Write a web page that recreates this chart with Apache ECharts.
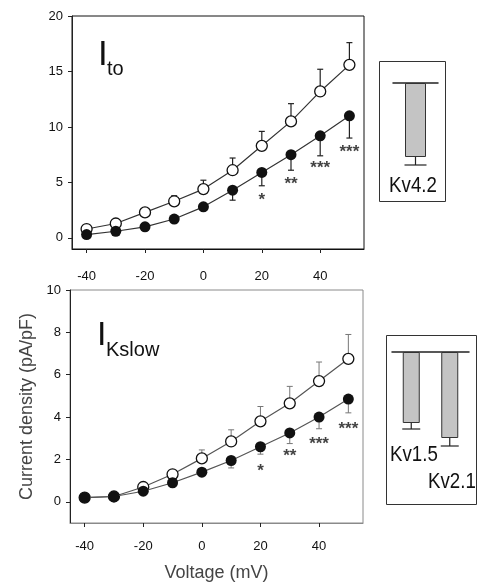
<!DOCTYPE html>
<html>
<head>
<meta charset="utf-8">
<script src="https://cdn.jsdelivr.net/npm/echarts@6/dist/echarts.min.js"></script>
<style>
  html, body { margin: 0; padding: 0; background: #fff; }
  #chart { width: 478px; height: 584px; }
</style>
</head>
<body>
<div id="chart"></div>
<script>
// voltage steps (mV)
const voltages = [-40, -30, -20, -10, 0, 10, 20, 30, 40, 50]
const xTicks = [-40, -20, 0, 20, 40]

// Ito panel
const itoTicks = [0, 5, 10, 15, 20]
const itoOpen = [0.8, 1.3, 2.3, 3.3, 4.4, 6.1, 8.3, 10.5, 13.2, 15.6]
const itoOpenErr = [0.9, 1.5, 2.6, 3.8, 5.2, 7.2, 9.6, 12.1, 15.2, 17.6]
const itoFilled = [0.3, 0.6, 1.0, 1.7, 2.8, 4.3, 5.9, 7.5, 9.2, 11.0]
const itoFilledErr = [0.2, 0.5, 0.8, 1.5, 2.6, 3.4, 4.7, 6.1, 7.4, 9.0]
const itoStarX = [20, 30, 40, 50]
const itoStarY = [3.7, 5.1, 6.5, 8.0]
const starText = ['*', '**', '***', '***']

// IKslow panel
const ksTicks = [0, 2, 4, 6, 8, 10]
const ksOpen = [0.2, 0.25, 0.7, 1.3, 2.05, 2.85, 3.8, 4.65, 5.7, 6.75]
const ksOpenErr = [0.25, 0.3, 0.75, 1.4, 2.45, 3.4, 4.5, 5.45, 6.6, 7.9]
const ksFilled = [0.2, 0.25, 0.5, 0.9, 1.4, 1.95, 2.6, 3.25, 4.0, 4.85]
const ksFilledErr = [0.15, 0.2, 0.4, 0.8, 1.25, 1.6, 2.25, 2.75, 3.45, 4.2]
const ksStarY = [1.6, 2.3, 2.85, 3.55]

// inset bars (relative)
const insetTopCats = ['Kv4.2']
const insetTopVals = [0.74]
const insetTopErr = [0.82]
const insetBotCats = ['Kv1.5', 'Kv2.1']
const insetBotVals = [0.71, 0.86]
const insetBotErr = [0.77, 0.94]

const FONT = "'Liberation Sans', Arial, sans-serif"

function pairs (xs, ys) {
  return xs.map((x, i) => [x, ys[i]])
}

function errData (xs, base, end) {
  return xs.map((x, i) => [x, base[i], end[i]])
}

function errRender (capHalf, color, width) {
  return function (params, api) {
    const x = api.value(0)
    const p0 = api.coord([x, api.value(1)])
    const p1 = api.coord([x, api.value(2)])
    const style = { stroke: color, lineWidth: width }
    return {
      type: 'group',
      children: [
        { type: 'line', shape: { x1: p0[0], y1: p0[1], x2: p1[0], y2: p1[1] }, style: style },
        { type: 'line', shape: { x1: p1[0] - capHalf, y1: p1[1], x2: p1[0] + capHalf, y2: p1[1] }, style: style }
      ]
    }
  }
}

function mainXAxis (gridIndex, lineColor, margin) {
  return {
    type: 'value',
    gridIndex: gridIndex,
    min: -45,
    max: 55,
    axisLine: { show: true, onZero: false, lineStyle: { color: lineColor, width: 1 } },
    axisTick: { show: true, length: 4, customValues: xTicks, lineStyle: { color: '#222' } },
    axisLabel: { customValues: xTicks, color: '#111', fontSize: 13, fontFamily: FONT, margin: margin },
    splitLine: { show: false }
  }
}

function mainYAxis (gridIndex, max, ticks) {
  return {
    type: 'value',
    gridIndex: gridIndex,
    min: -1,
    max: max,
    axisLine: { show: true, onZero: false, lineStyle: { color: '#222', width: 1 } },
    axisTick: { show: true, length: 4, customValues: ticks, lineStyle: { color: '#222' } },
    axisLabel: { customValues: ticks, color: '#111', fontSize: 13, fontFamily: FONT, margin: 9 },
    splitLine: { show: false }
  }
}

function curveSeries (idx, ys, filled, lineColor) {
  return {
    type: 'line',
    xAxisIndex: idx,
    yAxisIndex: idx,
    data: pairs(voltages, ys),
    symbol: 'circle',
    symbolSize: 11,
    z: filled ? 5 : 4,
    lineStyle: { color: lineColor, width: 1.2 },
    itemStyle: { color: filled ? '#111' : '#fff', borderColor: '#111', borderWidth: filled ? 0 : 1.3 }
  }
}

function starSeries (idx, ys) {
  return {
    type: 'scatter',
    xAxisIndex: idx,
    yAxisIndex: idx,
    symbolSize: 0,
    data: pairs(itoStarX, ys),
    label: {
      show: true,
      position: 'inside',
      offset: [0, 3],
      formatter: p => starText[p.dataIndex],
      color: '#111',
      fontSize: 17,
      fontWeight: 'bold',
      fontFamily: FONT
    }
  }
}

const chart = echarts.init(document.getElementById('chart'))

chart.setOption({
  animation: false,
  backgroundColor: '#fff',
  grid: [
    { left: 72, top: 16, width: 292, height: 233, show: true, borderColor: '#111', borderWidth: 1, outerBoundsMode: 'none' },
    { left: 70, top: 290, width: 293, height: 233, show: true, borderColor: '#8a8a8a', borderWidth: 1, outerBoundsMode: 'none' },
    { left: 393, top: 83, width: 45, height: 100, outerBoundsMode: 'none' },
    { left: 392, top: 352, width: 77, height: 100, outerBoundsMode: 'none' }
  ],
  xAxis: [
    mainXAxis(0, '#111', 21),
    Object.assign(mainXAxis(1, '#8a8a8a', 17), {
      name: 'Voltage (mV)',
      nameLocation: 'middle',
      nameGap: 41,
      nameTextStyle: { color: '#444', fontSize: 18, fontFamily: FONT }
    }),
    {
      type: 'category', gridIndex: 2, data: insetTopCats, position: 'top',
      axisLine: { lineStyle: { color: '#222', width: 1.5 } },
      axisTick: { show: false }, axisLabel: { show: false }
    },
    {
      type: 'category', gridIndex: 3, data: insetBotCats, position: 'top',
      axisLine: { lineStyle: { color: '#222', width: 1.5 } },
      axisTick: { show: false }, axisLabel: { show: false }
    }
  ],
  yAxis: [
    mainYAxis(0, 20, itoTicks),
    Object.assign(mainYAxis(1, 10, ksTicks), {
      name: 'Current density (pA/pF)',
      nameLocation: 'middle',
      nameGap: 29,
      nameTextStyle: { color: '#444', fontSize: 18, fontFamily: FONT }
    }),
    { type: 'value', gridIndex: 2, min: 0, max: 1, inverse: true, show: false },
    { type: 'value', gridIndex: 3, min: 0, max: 1, inverse: true, show: false }
  ],
  series: [
    // Ito
    {
      type: 'custom', xAxisIndex: 0, yAxisIndex: 0, z: 3,
      renderItem: errRender(3, '#222', 1.2),
      encode: { x: 0, y: [1, 2] },
      data: errData(voltages, itoOpen, itoOpenErr)
    },
    {
      type: 'custom', xAxisIndex: 0, yAxisIndex: 0, z: 3,
      renderItem: errRender(3, '#222', 1.2),
      encode: { x: 0, y: [1, 2] },
      data: errData(voltages, itoFilled, itoFilledErr)
    },
    curveSeries(0, itoOpen, false, '#333'),
    curveSeries(0, itoFilled, true, '#333'),
    starSeries(0, itoStarY),
    // IKslow
    {
      type: 'custom', xAxisIndex: 1, yAxisIndex: 1, z: 3,
      renderItem: errRender(3, '#777', 1),
      encode: { x: 0, y: [1, 2] },
      data: errData(voltages, ksOpen, ksOpenErr)
    },
    {
      type: 'custom', xAxisIndex: 1, yAxisIndex: 1, z: 3,
      renderItem: errRender(3, '#777', 1),
      encode: { x: 0, y: [1, 2] },
      data: errData(voltages, ksFilled, ksFilledErr)
    },
    curveSeries(1, ksOpen, false, '#555'),
    curveSeries(1, ksFilled, true, '#555'),
    starSeries(1, ksStarY),
    // insets
    {
      type: 'bar', xAxisIndex: 2, yAxisIndex: 2, barWidth: 21,
      data: insetTopVals,
      itemStyle: { color: '#c4c4c4', borderColor: '#333', borderWidth: 1 }
    },
    {
      type: 'custom', xAxisIndex: 2, yAxisIndex: 2, z: 1,
      renderItem: errRender(11, '#222', 1.2),
      encode: { x: 0, y: [1, 2] },
      data: insetTopVals.map((v, i) => [i, v, insetTopErr[i]])
    },
    {
      type: 'bar', xAxisIndex: 3, yAxisIndex: 3, barWidth: 17,
      data: insetBotVals,
      itemStyle: { color: '#c4c4c4', borderColor: '#333', borderWidth: 1 }
    },
    {
      type: 'custom', xAxisIndex: 3, yAxisIndex: 3, z: 1,
      renderItem: errRender(9, '#222', 1.2),
      encode: { x: 0, y: [1, 2] },
      data: insetBotVals.map((v, i) => [i, v, insetBotErr[i]])
    }
  ],
  graphic: [
    // panel titles
    { type: 'text', x: 98, y: 55, style: { text: 'I', fontSize: 35, fontFamily: FONT, fill: '#111', verticalAlign: 'middle' } },
    { type: 'text', x: 107, y: 69, style: { text: 'to', fontSize: 20, fontFamily: FONT, fill: '#111', verticalAlign: 'middle' } },
    { type: 'text', x: 97, y: 336, style: { text: 'I', fontSize: 34, fontFamily: FONT, fill: '#111', verticalAlign: 'middle' } },
    { type: 'text', x: 106, y: 350, style: { text: 'Kslow', fontSize: 20, fontFamily: FONT, fill: '#111', verticalAlign: 'middle' } },
    // inset frames
    { type: 'rect', shape: { x: 379.5, y: 61.5, width: 66, height: 140 }, style: { fill: 'none', stroke: '#333', lineWidth: 1 } },
    { type: 'rect', shape: { x: 386.5, y: 335.5, width: 90, height: 169 }, style: { fill: 'none', stroke: '#333', lineWidth: 1 } },
    // inset labels
    { type: 'text', x: 413, y: 186, scaleX: 0.85, style: { text: insetTopCats[0], fontSize: 22, fontFamily: FONT, fill: '#111', align: 'center', verticalAlign: 'middle' } },
    { type: 'text', x: 390, y: 455, scaleX: 0.85, style: { text: insetBotCats[0], fontSize: 22, fontFamily: FONT, fill: '#111', align: 'left', verticalAlign: 'middle' } },
    { type: 'text', x: 428, y: 482, scaleX: 0.85, style: { text: insetBotCats[1], fontSize: 22, fontFamily: FONT, fill: '#111', align: 'left', verticalAlign: 'middle' } }
  ]
})
</script>
</body>
</html>
